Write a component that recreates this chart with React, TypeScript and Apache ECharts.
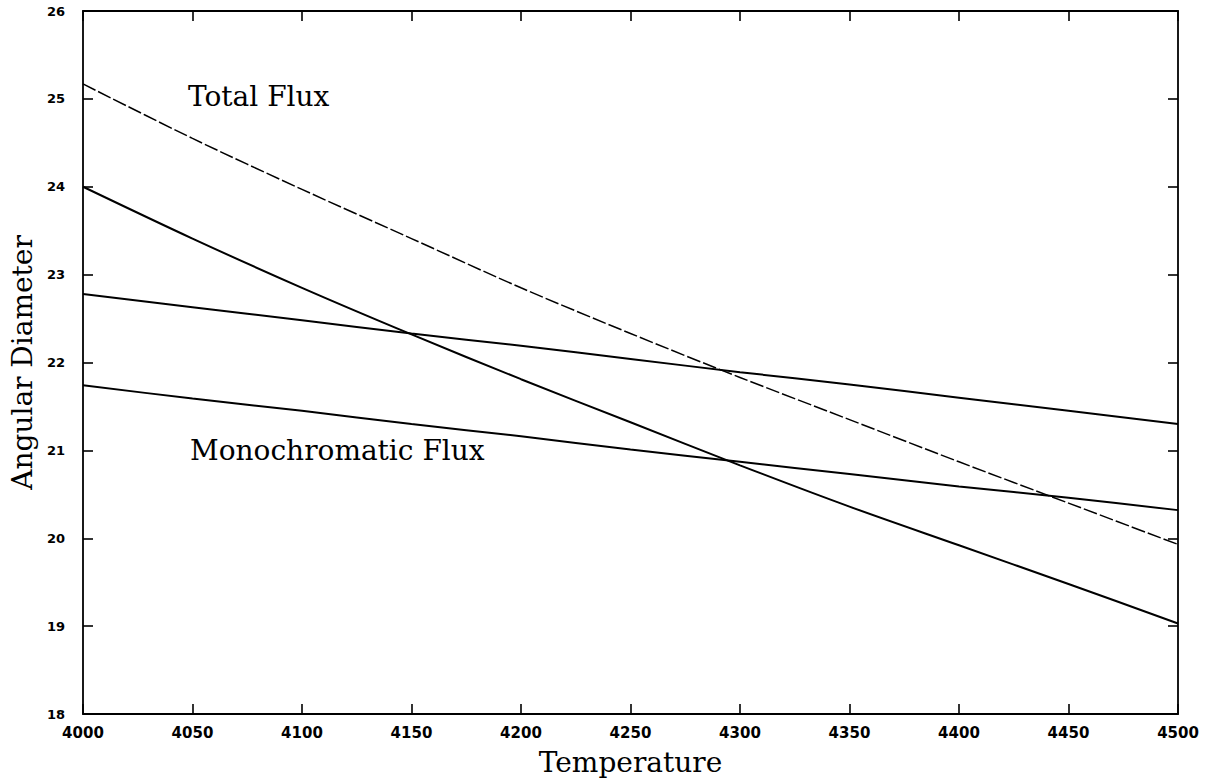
import React, { useEffect, useRef } from "react";
import * as echarts from "echarts";

const temperatures = [4000, 4050, 4100, 4150, 4200, 4250, 4300, 4350, 4400, 4450, 4500];
const totalFlux = [25.17, 24.55, 23.97, 23.41, 22.85, 22.33, 21.83, 21.35, 20.87, 20.4, 19.93];
const steepSolid = [24.0, 23.41, 22.85, 22.32, 21.81, 21.32, 20.83, 20.36, 19.92, 19.48, 19.03];
const upperSolid = [22.78, 22.63, 22.48, 22.33, 22.19, 22.04, 21.89, 21.75, 21.6, 21.45, 21.3];
const lowerSolid = [21.74, 21.59, 21.45, 21.3, 21.16, 21.01, 20.87, 20.73, 20.59, 20.46, 20.32];

const xTitle = "Temperature";
const yTitle = "Angular Diameter";
const label1 = "Total Flux";
const label2 = "Monochromatic Flux";

const pairs = (ys: number[]) => temperatures.map((t, i) => [t, ys[i]]);

export default function App() {
  const ref = useRef<HTMLDivElement>(null);
  useEffect(() => {
    if (!ref.current) return;
    const chart = echarts.init(ref.current, null, { renderer: "svg" });
    const axisLine = { show: true, lineStyle: { color: "#000", width: 1.8 } };
    const tickInside = { show: true, inside: true, length: 10, lineStyle: { color: "#000", width: 1.6 } };
    const serif = "'DejaVu Serif', serif";
    const sans = "'DejaVu Sans', sans-serif";
    const plain = (v: number) => String(v);
    const lineSeries = (name: string, ys: number[], dashed = false) => ({
      name,
      type: "line",
      data: pairs(ys),
      showSymbol: false,
      symbol: "none",
      smooth: 0.3,
      lineStyle: { color: "#000", width: dashed ? 1.5 : 2, type: dashed ? [14, 3] : "solid" },
      xAxisIndex: 0,
      yAxisIndex: 0,
    });
    chart.setOption({
      animation: false,
      backgroundColor: "#fff",
      grid: { left: 82, right: 36, top: 11, bottom: 61, containLabel: false },
      xAxis: [
        {
          type: "value",
          min: 4000,
          max: 4500,
          interval: 50,
          position: "bottom",
          axisLine,
          axisTick: tickInside,
          splitLine: { show: false },
          axisLabel: { color: "#000", fontFamily: sans, fontWeight: "bold", fontSize: 15, margin: 11, formatter: plain },
          name: xTitle,
          nameLocation: "middle",
          nameGap: 34,
          nameTextStyle: { color: "#000", fontFamily: serif, fontSize: 28 },
        },
        {
          type: "value",
          min: 4000,
          max: 4500,
          interval: 50,
          position: "top",
          axisLine,
          axisTick: tickInside,
          splitLine: { show: false },
          axisLabel: { show: false },
        },
      ],
      yAxis: [
        {
          type: "value",
          min: 18,
          max: 26,
          interval: 1,
          position: "left",
          axisLine,
          axisTick: tickInside,
          splitLine: { show: false },
          axisLabel: { color: "#000", fontFamily: sans, fontWeight: "bold", fontSize: 13, margin: 18, formatter: plain },
          name: yTitle,
          nameLocation: "middle",
          nameGap: 46,
          nameTextStyle: { color: "#000", fontFamily: serif, fontSize: 28 },
        },
        {
          type: "value",
          min: 18,
          max: 26,
          interval: 1,
          position: "right",
          axisLine,
          axisTick: tickInside,
          splitLine: { show: false },
          axisLabel: { show: false },
        },
      ],
      series: [
        lineSeries(label1, totalFlux, true),
        lineSeries("steep", steepSolid),
        lineSeries("upper", upperSolid),
        lineSeries(label2, lowerSolid),
      ],
      graphic: [
        {
          type: "text",
          left: 188,
          top: 82,
          style: { text: label1, fill: "#000", font: `28px ${serif}` },
        },
        {
          type: "text",
          left: 190,
          top: 436,
          style: { text: label2, fill: "#000", font: `28px ${serif}` },
        },
      ],
    });
    return () => chart.dispose();
  }, []);
  return (
    <div
      ref={ref}
      style={{ position: "fixed", left: 0, top: 0, width: 1214, height: 781, background: "#fff" }}
    />
  );
}
